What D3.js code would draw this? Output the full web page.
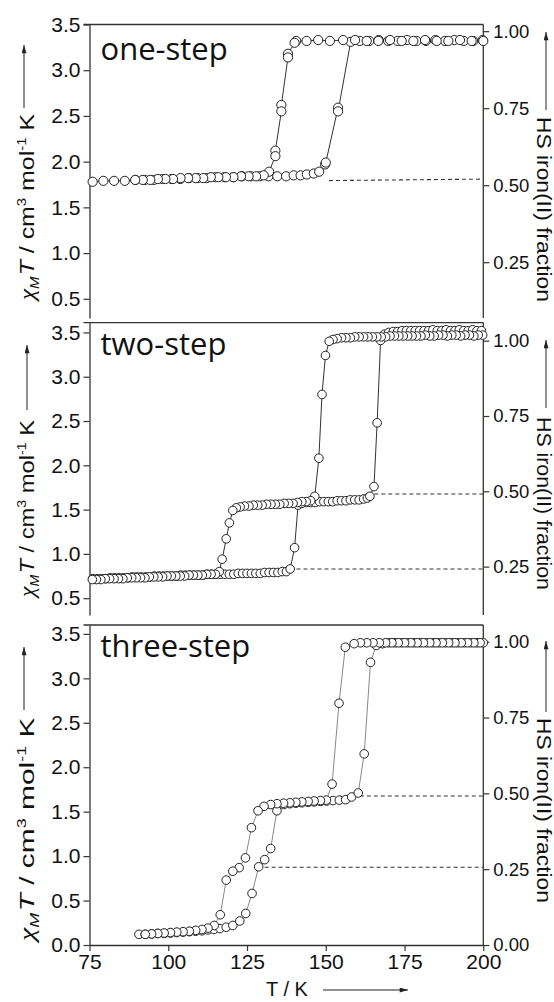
<!DOCTYPE html>
<html><head><meta charset="utf-8">
<script src="https://cdn.jsdelivr.net/npm/d3@7"></script>
<style>
body{margin:0;background:#fff;}
svg{display:block;}
</style></head><body>
<svg id="chart" width="554" height="1002"></svg>
<script>
// ---------------- DATA ----------------
const xTicks = [75, 100, 125, 150, 175, 200];
const yTicksOne = [0.5, 1.0, 1.5, 2.0, 2.5, 3.0, 3.5];
const yTicksTwo = [0.5, 1.0, 1.5, 2.0, 2.5, 3.0, 3.5];
const yTicksThree = [0.0, 0.5, 1.0, 1.5, 2.0, 2.5, 3.0, 3.5];
const fracTicksOne = [0.25, 0.50, 0.75, 1.00];
const fracTicksTwo = [0.25, 0.50, 0.75, 1.00];
const fracTicksThree = [0.00, 0.25, 0.50, 0.75, 1.00];
const panelNames = ["one-step", "two-step", "three-step"];

// [T (K), chiMT (cm3 mol-1 K)]
const oneStepCooling = [
[200.0,3.32],[196.3,3.32],[192.6,3.33],[188.9,3.32],[185.2,3.32],[181.5,3.33],[177.8,3.32],[174.1,3.32],[170.4,3.33],[166.7,3.32],[163.0,3.32],[159.3,3.33],[155.5,3.33],[151.3,3.32],[147.6,3.33],[143.9,3.32],[140.6,3.32],[140.1,3.30],[138.0,3.18],[138.0,3.14],[135.9,2.62],[135.9,2.55],[134.0,2.12],[134.0,2.06],[132.0,1.89],[130.3,1.85],[127.9,1.84],[125.5,1.84],[123.1,1.84],[120.7,1.83],[118.3,1.83],[115.9,1.83],[113.5,1.83],[111.1,1.82],[108.7,1.82],[106.3,1.82],[103.9,1.82],[101.5,1.81],[99.1,1.81],[96.7,1.81],[94.3,1.80],[91.9,1.80],[89.5,1.80]
];
const oneStepHeating = [
[76.0,1.78],[79.4,1.79],[82.8,1.79],[86.2,1.79],[89.6,1.80],[92.6,1.80],[95.4,1.80],[98.2,1.81],[101.0,1.81],[103.8,1.81],[106.6,1.82],[109.4,1.82],[112.2,1.82],[115.0,1.83],[117.8,1.83],[120.6,1.83],[123.4,1.84],[126.2,1.84],[129.0,1.84],[131.8,1.84],[134.6,1.84],[137.4,1.84],[139.8,1.85],[142.0,1.85],[144.0,1.86],[146.2,1.87],[147.9,1.89],[149.8,1.97],[150.0,1.99],[153.9,2.59],[153.9,2.55],[157.9,3.31],[160.8,3.32],[163.8,3.32],[166.8,3.33],[169.8,3.32],[172.8,3.32],[175.8,3.33],[178.8,3.32],[181.8,3.32],[184.8,3.33],[187.8,3.32],[190.8,3.33],[193.8,3.32],[196.8,3.32],[199.8,3.33]
];
const oneStepDashes = [
[[151.0,1.793],[200.0,1.809]]
];

const twoStepHeating = [
[76.0,0.72],[77.4,0.72],[78.8,0.72],[80.2,0.72],[81.6,0.73],[83.0,0.73],[84.4,0.73],[85.8,0.73],[87.2,0.73],[88.6,0.74],[90.0,0.74],[91.4,0.74],[92.8,0.74],[94.2,0.74],[95.6,0.75],[97.0,0.75],[98.4,0.75],[99.8,0.75],[101.2,0.75],[102.6,0.75],[104.0,0.76],[105.4,0.76],[106.8,0.76],[108.2,0.76],[109.6,0.76],[111.0,0.76],[112.4,0.77],[113.8,0.77],[115.2,0.77],[116.6,0.77],[118.0,0.77],[119.4,0.77],[120.8,0.77],[122.2,0.78],[123.6,0.78],[125.0,0.78],[126.4,0.78],[127.8,0.78],[129.2,0.78],[130.6,0.79],[132.0,0.79],[133.4,0.79],[134.8,0.79],[136.2,0.80],[137.5,0.80],[138.7,0.83],
[140.1,1.07],[141.2,1.55],
[142.4,1.57],[143.8,1.58],[145.2,1.58],[146.6,1.58],[148.0,1.59],[149.4,1.59],[150.8,1.59],[152.2,1.59],[153.6,1.60],[155.0,1.60],[156.4,1.60],[157.8,1.61],[159.2,1.61],[160.6,1.61],[162.0,1.62],[163.2,1.63],[164.0,1.65],[165.3,1.76],[166.3,2.48],[167.4,3.41],
[168.6,3.48],[170.0,3.50],[171.4,3.51],[172.8,3.51],[174.2,3.52],[175.6,3.52],[177.0,3.52],[178.4,3.52],[179.8,3.52],[181.2,3.52],[182.6,3.52],[184.0,3.53],[185.4,3.52],[186.8,3.52],[188.2,3.53],[189.6,3.52],[191.0,3.52],[192.4,3.53],[193.8,3.52],[195.2,3.52],[196.6,3.53],[198.0,3.52],[199.4,3.52]
];
const twoStepCooling = [
[199.8,3.47],[198.4,3.47],[197.0,3.46],[195.6,3.47],[194.2,3.47],[192.8,3.46],[191.4,3.47],[190.0,3.47],[188.6,3.46],[187.2,3.47],[185.8,3.47],[184.4,3.46],[183.0,3.46],[181.6,3.47],[180.2,3.46],[178.8,3.46],[177.4,3.46],[176.0,3.46],[174.6,3.46],[173.2,3.46],[171.8,3.46],[170.4,3.46],[169.0,3.45],[167.6,3.45],[166.2,3.45],[164.8,3.45],[163.4,3.45],[162.0,3.45],[160.6,3.45],[159.2,3.45],[157.8,3.44],[156.4,3.44],[155.0,3.44],[153.6,3.43],[152.3,3.42],[151.1,3.40],
[149.9,3.24],[148.8,2.80],[147.8,2.08],[146.5,1.65],
[145.2,1.60],[143.8,1.59],[142.4,1.59],[141.0,1.58],[139.6,1.57],[138.2,1.57],[136.8,1.57],[135.4,1.56],[134.0,1.56],[132.6,1.56],[131.2,1.56],[129.8,1.55],[128.4,1.55],[127.0,1.55],[125.6,1.54],[124.2,1.54],[122.8,1.53],[121.6,1.52],[120.5,1.49],
[119.4,1.35],[118.4,1.17],[117.1,0.94],[116.2,0.80],
[115.0,0.77],[113.6,0.77],[112.2,0.77],[110.8,0.76],[109.4,0.76],[108.0,0.76],[106.6,0.76],[105.2,0.75],[103.8,0.75],[102.4,0.75],[101.0,0.75],[99.6,0.75],[98.2,0.74],[96.8,0.74],[95.4,0.74],[94.0,0.74],[92.6,0.73],[91.2,0.73],[89.8,0.73],[88.4,0.73],[87.0,0.73],[85.6,0.72],[84.2,0.72],[82.8,0.72],[81.4,0.72],[80.0,0.72],[78.6,0.71],[77.2,0.71],[75.9,0.71]
];
const twoStepDashes = [
[[165.4,1.676],[200.0,1.676]],
[[140.7,0.830],[200.0,0.830]]
];

const threeStepHeating = [
[90.7,0.12],[92.7,0.12],[94.7,0.125],[96.7,0.13],[98.7,0.13],[100.7,0.135],[102.7,0.14],[104.7,0.145],[106.7,0.15],[108.7,0.155],[110.7,0.16],[112.6,0.17],[114.5,0.175],[116.4,0.185],[118.4,0.20],[120.5,0.22],[122.7,0.27],[124.6,0.355],[126.6,0.58],[128.7,0.88],[130.6,0.96],[132.5,1.085],[134.5,1.51],[136.7,1.58],[138.6,1.59],[140.5,1.595],[142.4,1.60],[144.4,1.605],[146.3,1.61],[148.3,1.615],[150.3,1.62],[152.3,1.625],[154.3,1.63],[156.3,1.635],[158.2,1.665],[160.3,1.71],[162.2,2.15],[164.2,3.18],[166.0,3.37],[168.0,3.39],[170.0,3.40],[172.0,3.40],[174.0,3.40],[176.0,3.40],[178.0,3.40],[180.0,3.40],[182.0,3.40],[184.0,3.40],[186.0,3.40],[188.0,3.40],[190.0,3.40],[192.0,3.40],[194.0,3.40],[196.0,3.40],[198.0,3.40],[200.0,3.40]
];
const threeStepCooling = [
[199.0,3.40],[197.0,3.40],[195.0,3.40],[193.0,3.40],[191.0,3.40],[189.0,3.40],[187.0,3.40],[185.0,3.40],[183.0,3.40],[181.0,3.40],[179.0,3.40],[177.0,3.40],[175.0,3.40],[173.0,3.40],[171.0,3.40],[169.0,3.40],[167.0,3.40],[165.0,3.40],[163.0,3.40],[161.0,3.40],[159.0,3.39],[156.2,3.35],[154.2,2.72],[152.0,1.81],[150.2,1.63],[148.3,1.625],[146.3,1.62],[144.4,1.615],[142.4,1.61],[140.5,1.605],[138.6,1.60],[136.6,1.595],[134.5,1.59],[132.5,1.58],[130.4,1.56],[128.5,1.51],[126.4,1.32],[124.5,0.98],[122.5,0.87],[120.5,0.83],[118.4,0.73],[116.5,0.34],[114.6,0.22],[112.6,0.19],[110.7,0.175],[108.7,0.165],[106.7,0.155],[104.7,0.15],[102.7,0.145],[100.7,0.14],[98.7,0.135],[96.7,0.13],[94.7,0.125],[92.7,0.12]
];
const threeStepDashes = [
[[160.8,1.676],[200.0,1.676]],
[[130.6,0.874],[200.0,0.874]]
];

// ---------------- LAYOUT ----------------
const X0 = 89.5, X1 = 483.3;
const panels = [
  {name: panelNames[0], cool: oneStepCooling, heat: oneStepHeating, dashes: oneStepDashes,
   top: 24.5, bottom: 318, yDom: [0.29, 3.5], fracAt: [0.058, 3.427],
   yTicks: yTicksOne, fTicks: fracTicksOne, lineColor: "#333", r: 4.6, labelBase: 60,
   leftLab: {x: 34, start: 300, end: 115, ax: 24, tail: 108, tip: 45},
   rightLab: {x: 537, start: 117, end: 302, ax: 546, tail: 110, tip: 32}},
  {name: panelNames[1], cool: twoStepCooling, heat: twoStepHeating, dashes: twoStepDashes,
   top: 322.7, bottom: 615, yDom: [0.31, 3.61], fracAt: [0.006, 3.407],
   yTicks: yTicksTwo, fTicks: fracTicksTwo, lineColor: "#333", r: 4.3, labelBase: 355,
   leftLab: {x: 34, start: 597, end: 421, ax: 27, tail: 410, tip: 345},
   rightLab: {x: 537, start: 417, end: 590, ax: 546, tail: 408, tip: 340}},
  {name: panelNames[2], cool: threeStepCooling, heat: threeStepHeating, dashes: threeStepDashes,
   top: 625, bottom: 945, yDom: [0, 3.6], fracAt: [0, 3.412],
   yTicks: yTicksThree, fTicks: fracTicksThree, lineColor: "#888", r: 4.3, labelBase: 657,
   leftLab: {x: 34, start: 941, end: 719, ax: 24, tail: 710, tip: 647},
   rightLab: {x: 537, start: 718, end: 903, ax: 546, tail: 712, tip: 641}}
];

const svg = d3.select("#chart");
const AX = "#333";
const FONT = "'Liberation Sans', Arial, Helvetica, sans-serif";

svg.append("defs").append("marker")
  .attr("id", "ah").attr("viewBox", "0 0 10 6")
  .attr("markerWidth", 9).attr("markerHeight", 5)
  .attr("refX", 10).attr("refY", 3)
  .attr("markerUnits", "userSpaceOnUse")
  .attr("orient", "auto")
  .append("path").attr("d", "M0,0 L10,3 L0,6 Z").attr("fill", "#222");

const x = d3.scaleLinear().domain([75, 200]).range([X0, X1]);

function stretched(g, build, target, tx, ty, angle, size) {
  const t = g.append("text").attr("font-family", FONT).attr("font-size", size).attr("fill", "#111");
  build(t);
  const len = t.node().getComputedTextLength();
  const k = target / len;
  t.attr("transform", `translate(${tx},${ty}) rotate(${angle}) scale(${k},1)`);
  return t;
}

panels.forEach((p, i) => {
  const g = svg.append("g");
  const y = d3.scaleLinear().domain(p.yDom).range([p.bottom, p.top]);
  const f = d3.scaleLinear().domain([0, 1]).range([y(p.fracAt[0]), y(p.fracAt[1])]);

  // top border
  g.append("line").attr("x1", X0 - 6).attr("x2", X1).attr("y1", p.top).attr("y2", p.top)
    .attr("stroke", AX).attr("stroke-width", 1.3);
  // right border
  g.append("line").attr("x1", X1).attr("x2", X1).attr("y1", p.top).attr("y2", p.bottom)
    .attr("stroke", AX).attr("stroke-width", 1.3);

  // left axis
  const la = g.append("g").attr("transform", `translate(${X0},0)`)
    .call(d3.axisLeft(y).tickValues(p.yTicks).tickFormat(d3.format(".1f")).tickSize(6).tickSizeOuter(0).tickPadding(3));
  la.select(".domain").attr("stroke", AX).attr("stroke-width", 1.3);
  la.selectAll(".tick line").attr("stroke", AX).attr("stroke-width", 1.2);
  la.selectAll(".tick text").attr("font-family", FONT).attr("font-size", 21).attr("fill", "#111");

  // right axis (fraction)
  const ra = g.append("g").attr("transform", `translate(${X1},0)`)
    .call(d3.axisRight(f).tickValues(p.fTicks).tickFormat(d3.format(".2f")).tickSize(6).tickSizeOuter(0).tickPadding(4));
  ra.select(".domain").remove();
  ra.selectAll(".tick line").attr("stroke", AX).attr("stroke-width", 1.2);
  ra.selectAll(".tick text").attr("font-family", FONT).attr("font-size", 18.5).attr("fill", "#111");

  // dashed guide lines
  const dl = d3.line().x(d => x(d[0])).y(d => y(d[1]));
  p.dashes.forEach(d => {
    g.append("path").attr("d", dl(d)).attr("fill", "none")
      .attr("stroke", "#333").attr("stroke-width", 1.1).attr("stroke-dasharray", "4,3");
  });

  // connecting lines
  const line = d3.line().x(d => x(d[0])).y(d => y(d[1]));
  [p.cool, p.heat].forEach(s => {
    g.append("path").attr("d", line(s)).attr("fill", "none")
      .attr("stroke", p.lineColor).attr("stroke-width", 1);
  });
  // markers
  [p.heat, p.cool].forEach(s => {
    g.append("g").selectAll("circle").data(s).join("circle")
      .attr("cx", d => x(d[0])).attr("cy", d => y(d[1])).attr("r", p.r)
      .attr("fill", "#fff").attr("stroke", "#222").attr("stroke-width", 1);
  });

  // panel label
  g.append("text").attr("x", 100.5).attr("y", p.labelBase)
    .attr("font-family", "'Open Sans', 'Noto Sans', sans-serif").attr("font-size", 31).attr("fill", "#111")
    .text(p.name);

  // left axis title
  const L = p.leftLab;
  stretched(g, t => {
    t.append("tspan").text("χ").attr("font-family", "'Liberation Serif', serif").attr("font-style", "italic");
    t.append("tspan").text("M").attr("font-size", 12).attr("font-style", "italic").attr("dy", 5);
    t.append("tspan").text("T").attr("font-style", "italic").attr("dy", -5).attr("dx", 1);
    t.append("tspan").text(" / cm");
    t.append("tspan").text("3").attr("font-size", 12).attr("dy", -8);
    t.append("tspan").text(" mol").attr("dy", 8);
    t.append("tspan").text("-1").attr("font-size", 12).attr("dy", -8);
    t.append("tspan").text(" K").attr("dy", 8);
  }, L.start - L.end, L.x, L.start, -90, 20);
  g.append("line").attr("x1", L.ax).attr("x2", L.ax).attr("y1", L.tail).attr("y2", L.tip)
    .attr("stroke", "#222").attr("stroke-width", 1).attr("marker-end", "url(#ah)");

  // right axis title
  const R = p.rightLab;
  stretched(g, t => { t.text("HS iron(II) fraction"); }, R.end - R.start, R.x, R.start, 90, 20);
  g.append("line").attr("x1", R.ax).attr("x2", R.ax).attr("y1", R.tail).attr("y2", R.tip)
    .attr("stroke", "#222").attr("stroke-width", 1).attr("marker-end", "url(#ah)");

  // bottom axis for last panel
  if (i === panels.length - 1) {
    const ba = g.append("g").attr("transform", `translate(0,${p.bottom})`)
      .call(d3.axisBottom(x).tickValues(xTicks).tickSize(6).tickSizeOuter(0).tickPadding(3));
    ba.select(".domain").attr("stroke", AX).attr("stroke-width", 1.3);
    ba.selectAll(".tick line").attr("stroke", AX).attr("stroke-width", 1.2);
    ba.selectAll(".tick text").attr("font-family", FONT).attr("font-size", 21).attr("fill", "#111");
    g.append("text").attr("x", 287).attr("y", 996).attr("text-anchor", "middle")
      .attr("font-family", FONT).attr("font-size", 20).attr("fill", "#111").text("T / K");
    g.append("line").attr("x1", 323).attr("x2", 408).attr("y1", 990).attr("y2", 990)
      .attr("stroke", "#222").attr("stroke-width", 1).attr("marker-end", "url(#ah)");
  }
});
</script></body></html>
